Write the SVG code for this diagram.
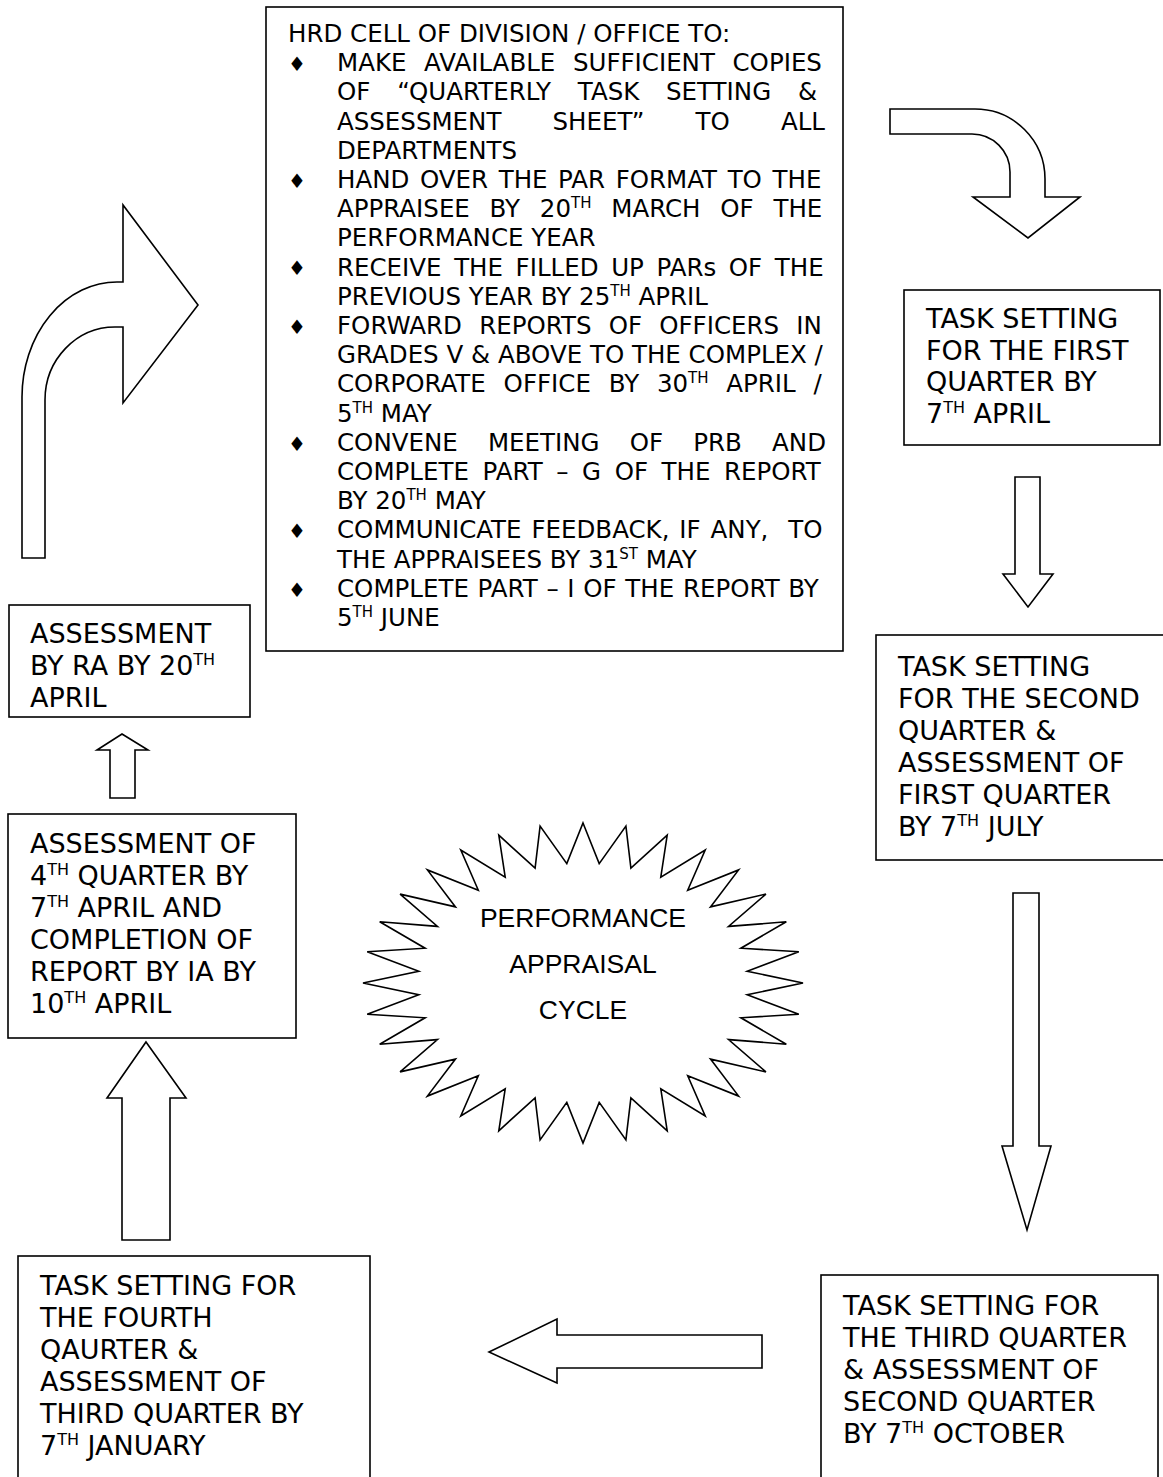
<svg xmlns="http://www.w3.org/2000/svg" width="1163" height="1477" viewBox="0 0 1163 1477">
  <style>
    .box { fill: #ffffff; stroke: #000000; stroke-width: 1.6; }
    .arrow { fill: #ffffff; stroke: #000000; stroke-width: 1.6; stroke-linejoin: miter; }
    .t { font-family: "DejaVu Sans", Verdana, sans-serif; fill: #000000; }
    .body { font-size: 24.5px; }
    .big { font-size: 27px; }
    .bul { font-family: "DejaVu Sans", sans-serif; font-size: 20px; text-anchor: middle; }
    .star-t { font-family: "Liberation Sans", Arial, sans-serif; font-size: 26.5px; text-anchor: middle; fill: #000000; }
  </style>

  <!-- HRD cell duties -->
  <g id="hrd-cell">
    <rect class="box" x="266" y="7" width="577" height="644"/>
    <g class="t body">
      <text x="288" y="42">HRD CELL OF DIVISION / OFFICE TO:</text>
      <text x="337" y="71.2" word-spacing="9.8">MAKE AVAILABLE SUFFICIENT COPIES</text>
      <text x="337" y="100.4" word-spacing="19">OF “QUARTERLY TASK SETTING &amp;</text>
      <text x="337" y="129.6" word-spacing="43.3">ASSESSMENT SHEET” TO ALL</text>
      <text x="337" y="158.8">DEPARTMENTS</text>
      <text x="337" y="188" word-spacing="2.8">HAND OVER THE PAR FORMAT TO THE</text>
      <text x="337" y="217.2" word-spacing="12">APPRAISEE BY 20<tspan font-size="15" dy="-9">TH</tspan><tspan dy="9"> MARCH OF THE</tspan></text>
      <text x="337" y="246.4">PERFORMANCE YEAR</text>
      <text x="337" y="275.6" word-spacing="4.8">RECEIVE THE FILLED UP PARs OF THE</text>
      <text x="337" y="304.8">PREVIOUS YEAR BY 25<tspan font-size="15" dy="-9">TH</tspan><tspan dy="9"> APRIL</tspan></text>
      <text x="337" y="334" word-spacing="9.4">FORWARD REPORTS OF OFFICERS IN</text>
      <text x="337" y="363.2">GRADES V &amp; ABOVE TO THE COMPLEX /</text>
      <text x="337" y="392.4" word-spacing="10">CORPORATE OFFICE BY 30<tspan font-size="15" dy="-9">TH</tspan><tspan dy="9"> APRIL /</tspan></text>
      <text x="337" y="421.6">5<tspan font-size="15" dy="-9">TH</tspan><tspan dy="9"> MAY</tspan></text>
      <text x="337" y="450.8" word-spacing="22.4">CONVENE MEETING OF PRB AND</text>
      <text x="337" y="480" word-spacing="5.8">COMPLETE PART – G OF THE REPORT</text>
      <text x="337" y="509.2">BY 20<tspan font-size="15" dy="-9">TH</tspan><tspan dy="9"> MAY</tspan></text>
      <text x="337" y="538.4" word-spacing="2.1" xml:space="preserve">COMMUNICATE FEEDBACK, IF ANY,  TO</text>
      <text x="337" y="567.6">THE APPRAISEES BY 31<tspan font-size="15" dy="-9">ST</tspan><tspan dy="9"> MAY</tspan></text>
      <text x="337" y="596.8" word-spacing="0.9">COMPLETE PART – I OF THE REPORT BY</text>
      <text x="337" y="626">5<tspan font-size="15" dy="-9">TH</tspan><tspan dy="9"> JUNE</tspan></text>
    </g>
    <g class="t bul">
      <text x="297" y="71">♦</text>
      <text x="297" y="188">♦</text>
      <text x="297" y="275">♦</text>
      <text x="297" y="334">♦</text>
      <text x="297" y="451">♦</text>
      <text x="297" y="538">♦</text>
      <text x="297" y="597">♦</text>
    </g>
  </g>

  <!-- First quarter -->
  <g id="q1-task">
    <rect class="box" x="904" y="290" width="256" height="155"/>
    <g class="t big">
      <text x="926" y="328">TASK SETTING</text>
      <text x="926" y="359.5">FOR THE FIRST</text>
      <text x="926" y="391">QUARTER BY</text>
      <text x="926" y="422.5">7<tspan font-size="16" dy="-10">TH</tspan><tspan dy="10"> APRIL</tspan></text>
    </g>
  </g>

  <!-- Second quarter -->
  <g id="q2-task">
    <rect class="box" x="876" y="635" width="300" height="225"/>
    <g class="t big">
      <text x="898" y="676">TASK SETTING</text>
      <text x="898" y="708">FOR THE SECOND</text>
      <text x="898" y="740">QUARTER &amp;</text>
      <text x="898" y="772">ASSESSMENT OF</text>
      <text x="898" y="804">FIRST QUARTER</text>
      <text x="898" y="836">BY 7<tspan font-size="16" dy="-10">TH</tspan><tspan dy="10"> JULY</tspan></text>
    </g>
  </g>

  <!-- Third quarter -->
  <g id="q3-task">
    <rect class="box" x="821" y="1275" width="337" height="220"/>
    <g class="t big">
      <text x="843" y="1315">TASK SETTING FOR</text>
      <text x="843" y="1347">THE THIRD QUARTER</text>
      <text x="843" y="1379">&amp; ASSESSMENT OF</text>
      <text x="843" y="1411">SECOND QUARTER</text>
      <text x="843" y="1443">BY 7<tspan font-size="16" dy="-10">TH</tspan><tspan dy="10"> OCTOBER</tspan></text>
    </g>
  </g>

  <!-- Fourth quarter -->
  <g id="q4-task">
    <rect class="box" x="18" y="1256" width="352" height="240"/>
    <g class="t big">
      <text x="40" y="1295">TASK SETTING FOR</text>
      <text x="40" y="1327">THE FOURTH</text>
      <text x="40" y="1359">QAURTER &amp;</text>
      <text x="40" y="1391">ASSESSMENT OF</text>
      <text x="40" y="1423">THIRD QUARTER BY</text>
      <text x="40" y="1455">7<tspan font-size="16" dy="-10">TH</tspan><tspan dy="10"> JANUARY</tspan></text>
    </g>
  </g>

  <!-- Year-end assessment by IA -->
  <g id="q4-assess">
    <rect class="box" x="8" y="814" width="288" height="224"/>
    <g class="t big">
      <text x="30" y="853">ASSESSMENT OF</text>
      <text x="30" y="885">4<tspan font-size="16" dy="-10">TH</tspan><tspan dy="10"> QUARTER BY</tspan></text>
      <text x="30" y="917">7<tspan font-size="16" dy="-10">TH</tspan><tspan dy="10"> APRIL AND</tspan></text>
      <text x="30" y="949">COMPLETION OF</text>
      <text x="30" y="981">REPORT BY IA BY</text>
      <text x="30" y="1013">10<tspan font-size="16" dy="-10">TH</tspan><tspan dy="10"> APRIL</tspan></text>
    </g>
  </g>

  <!-- Assessment by RA -->
  <g id="ra-assess">
    <rect class="box" x="9" y="605" width="241" height="112"/>
    <g class="t big">
      <text x="30" y="643">ASSESSMENT</text>
      <text x="30" y="675">BY RA BY 20<tspan font-size="16" dy="-10">TH</tspan></text>
      <text x="30" y="707">APRIL</text>
    </g>
  </g>

  <!-- Central 32-point star -->
  <g id="cycle-star">
    <polygon class="arrow" points="583,823 599.2,863.6 625.9,826.1 630.9,868.2 667.2,835.2 660.8,877.2 705.2,850 687.7,890.2 738.6,869.9 710.5,906.9 765.9,894.1 728.5,926.4 786.3,921.8 740.9,948.2 798.8,951.8 747.2,971.2 803,983 747.2,994.8 798.8,1014.2 740.9,1017.8 786.3,1044.2 728.5,1039.6 765.9,1071.9 710.5,1059.1 738.6,1096.1 687.7,1075.8 705.2,1116 660.8,1088.8 667.2,1130.8 630.9,1097.8 625.9,1139.9 599.2,1102.4 583,1143 566.8,1102.4 540.1,1139.9 535.1,1097.8 498.8,1130.8 505.2,1088.8 460.8,1116 478.3,1075.8 427.4,1096.1 455.5,1059.1 400.1,1071.9 437.5,1039.6 379.7,1044.2 425.1,1017.8 367.2,1014.2 418.8,994.8 363,983 418.8,971.2 367.2,951.8 425.1,948.2 379.7,921.8 437.5,926.4 400.1,894.1 455.5,906.9 427.4,869.9 478.3,890.2 460.8,850 505.2,877.2 498.8,835.2 535.1,868.2 540.1,826.1 566.8,863.6"/>
    <text class="star-t" x="583" y="927">PERFORMANCE</text>
    <text class="star-t" x="583" y="973">APPRAISAL</text>
    <text class="star-t" x="583" y="1019">CYCLE</text>
  </g>

  <!-- Block arrows linking the stages -->
  <g id="connectors">
    <path class="arrow" d="M890,109 L975,109 A70,70 0 0 1 1045,179 L1045,197 L1080,197 L1028,238 L973,197 L1010,197 L1010,172 A38,38 0 0 0 972,134 L890,134 Z"/>
    <polygon class="arrow" points="1015,477 1040,477 1040,574 1053,574 1028,607 1003,574 1015,574"/>
    <polygon class="arrow" points="1013,893 1039,893 1039,1146 1051,1146 1027,1230 1002,1146 1013,1146"/>
    <polygon class="arrow" points="489,1352 557,1319 557,1335 762,1335 762,1368 557,1368 557,1383"/>
    <polygon class="arrow" points="146,1042 186,1098 170,1098 170,1240 122,1240 122,1098 107,1098"/>
    <polygon class="arrow" points="122,734 148,750 135,750 135,798 110,798 110,750 97,750"/>
    <path class="arrow" d="M22,558 L22,397 A95,115 0 0 1 117,282 L123,282 L123,205 L198,305 L123,403 L123,327 L115,327 A70,73 0 0 0 45,400 L45,558 Z"/>
  </g>
</svg>
